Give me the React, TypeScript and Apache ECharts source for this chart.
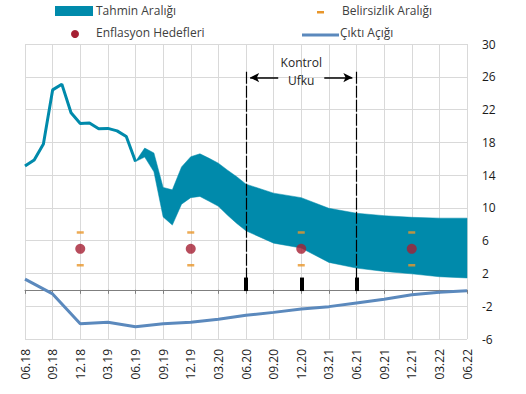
import React, { useEffect, useRef } from 'react';
import * as echarts from 'echarts';

// Quarterly tick labels (x axis = months since 06.18)
const xTickLabels = ['06.18', '09.18', '12.18', '03.19', '06.19', '09.19', '12.19', '03.20', '06.20', '09.20', '12.20', '03.21', '06.21', '09.21', '12.21', '03.22', '06.22'];

// Realised inflation (monthly)
const inflationMonths = [0, 1, 2, 3, 4, 5, 6, 7, 8, 9, 10, 11, 12];
const inflationValues = [15.1, 15.85, 17.8, 24.4, 25.1, 21.6, 20.3, 20.35, 19.65, 19.7, 19.4, 18.7, 15.65];

// Forecast range (Tahmin Aralığı)
const bandMonths = [12, 13, 14, 15, 16, 17, 18, 19, 20, 21, 22, 23, 24, 27, 30, 33, 36, 39, 42, 45, 48];
const bandUpper = [15.65, 17.3, 16.7, 12.5, 12.2, 15.0, 16.25, 16.6, 16.05, 15.45, 14.6, 13.8, 12.9, 11.8, 11.25, 9.95, 9.35, 9.05, 8.85, 8.75, 8.75];
const bandLower = [15.65, 16.2, 14.4, 8.9, 7.9, 10.45, 11.25, 11.4, 10.8, 10.2, 9.1, 8.1, 7.2, 5.7, 5.1, 3.35, 2.65, 2.25, 1.95, 1.6, 1.45];

// Output gap (Çıktı Açığı), quarterly
const gapMonths = [0, 3, 6, 9, 12, 15, 18, 21, 24, 27, 30, 33, 36, 39, 42, 45, 48];
const gapValues = [1.3, -0.5, -4.15, -3.95, -4.5, -4.15, -3.95, -3.6, -3.1, -2.75, -2.35, -2.05, -1.6, -1.15, -0.6, -0.3, -0.1];

// Inflation targets and uncertainty band
const targetMonths = [6, 18, 30, 42];
const targetValues = [5, 5, 5, 5];
const uncertaintyUpper = [7, 7, 7, 7];
const uncertaintyLower = [3, 3, 3, 3];

// Control horizon
const controlStart = 24;
const controlMid = 30;
const controlEnd = 36;
const controlTop = 26.6;
const arrowLevel = 25.9;

const TEAL = '#008aab';
const GAP = '#5b89bd';
const RED = '#a51f33';
const ORANGE = '#e8962b';
const FONT = 'Open Sans';

export default function App() {
  const ref = useRef<HTMLDivElement>(null);

  useEffect(() => {
    document.body.style.margin = '0';
    const chart = echarts.init(ref.current!, undefined, { renderer: 'svg' });

    const option: any = {
      animation: false,
      textStyle: { fontFamily: FONT },
      grid: { left: 25, right: 59, top: 44, bottom: 55 },
      xAxis: [
        {
          type: 'value',
          min: 0,
          max: 48,
          interval: 3,
          position: 'bottom',
          axisLine: { show: false, onZero: false },
          axisTick: { show: false },
          splitLine: { show: true, lineStyle: { color: '#d9d9d9', width: 1 } },
          axisLabel: {
            rotate: 90,
            margin: 10,
            color: '#1a1a1a',
            fontSize: 12,
            fontFamily: FONT,
            formatter: (v: number) => xTickLabels[Math.round(v / 3)] ?? '',
          },
        },
        {
          type: 'value',
          min: 0,
          max: 48,
          interval: 3,
          position: 'bottom',
          axisLine: { show: true, onZero: true, lineStyle: { color: '#7f7f7f', width: 1 } },
          axisTick: { show: true, length: 4, lineStyle: { color: '#7f7f7f' } },
          splitLine: { show: false },
          axisLabel: { show: false },
        },
      ],
      yAxis: {
        type: 'value',
        position: 'right',
        min: -6,
        max: 30,
        interval: 4,
        axisLine: { show: false },
        axisTick: { show: false },
        splitLine: { show: true, lineStyle: { color: '#d9d9d9', width: 1 } },
        axisLabel: { color: '#1a1a1a', fontSize: 12, margin: 15, fontFamily: FONT },
      },
      series: [
        {
          name: 'Tahmin Aralığı',
          type: 'custom',
          data: bandMonths.map((m, i) => [m, bandLower[i], bandUpper[i]]),
          encode: { x: 0, y: [1, 2] },
          z: 2,
          renderItem: (params: any, api: any) => {
            if (params.dataIndex !== 0) return { type: 'group', children: [] };
            const pts: number[][] = [];
            bandMonths.forEach((m, i) => pts.push(api.coord([m, bandUpper[i]])));
            for (let i = bandMonths.length - 1; i >= 0; i--) pts.push(api.coord([bandMonths[i], bandLower[i]]));
            return { type: 'polygon', shape: { points: pts }, style: { fill: TEAL, stroke: TEAL, lineWidth: 0.5 } };
          },
        },
        {
          name: 'Enflasyon',
          type: 'line',
          data: inflationMonths.map((m, i) => [m, inflationValues[i]]),
          symbol: 'none',
          z: 3,
          lineStyle: { color: TEAL, width: 3 },
        },
        {
          name: 'Çıktı Açığı',
          type: 'line',
          data: gapMonths.map((m, i) => [m, gapValues[i]]),
          symbol: 'none',
          z: 3,
          lineStyle: { color: GAP, width: 3 },
        },
        {
          name: 'Enflasyon Hedefleri',
          type: 'scatter',
          data: targetMonths.map((m, i) => [m, targetValues[i]]),
          symbol: 'circle',
          symbolSize: 10,
          z: 4,
          itemStyle: { color: RED },
        },
        {
          name: 'Belirsizlik Aralığı',
          type: 'scatter',
          data: [
            ...targetMonths.map((m, i) => [m, uncertaintyUpper[i]]),
            ...targetMonths.map((m, i) => [m, uncertaintyLower[i]]),
          ],
          symbol: 'rect',
          symbolSize: [7, 2.5],
          z: 4,
          itemStyle: { color: ORANGE },
        },
        {
          name: 'controlLines',
          type: 'line',
          data: [],
          z: 5,
          markLine: {
            silent: true,
            animation: false,
            symbol: ['none', 'none'],
            label: { show: false },
            lineStyle: { color: '#000', width: 1.2, type: [12, 2] },
            data: [
              [{ coord: [controlStart, controlTop] }, { coord: [controlStart, 0] }],
              [{ coord: [controlEnd, controlTop] }, { coord: [controlEnd, 0] }],
            ],
          },
        },
        {
          name: 'controlArrows',
          type: 'line',
          data: [],
          z: 5,
          markLine: {
            silent: true,
            animation: false,
            symbol: ['none', 'arrow'],
            symbolSize: [7, 9],
            label: { show: false },
            lineStyle: { color: '#000', width: 1.5, type: 'solid' },
            data: [
              [{ coord: [controlStart + 3.5, arrowLevel] }, { coord: [controlStart + 0.45, arrowLevel] }],
              [{ coord: [controlEnd - 3.5, arrowLevel] }, { coord: [controlEnd - 0.45, arrowLevel] }],
            ],
          },
          markPoint: {
            silent: true,
            animation: false,
            symbol: 'circle',
            symbolSize: 0,
            label: {
              show: true,
              position: 'inside',
              formatter: 'Kontrol\nUfku',
              color: '#262626',
              fontSize: 12,
              lineHeight: 18,
              fontFamily: FONT,
            },
            data: [{ coord: [controlMid, 26.6] }],
          },
        },
        {
          name: 'controlTicks',
          type: 'line',
          data: [],
          z: 6,
          markLine: {
            silent: true,
            animation: false,
            symbol: ['none', 'none'],
            label: { show: false },
            lineStyle: { color: '#000', width: 4, type: 'solid' },
            data: [controlStart, controlMid, controlEnd].map((m) => [
              { coord: [m, -0.15] },
              { coord: [m, 1.5] },
            ]),
          },
        },
      ],
      graphic: [
        { type: 'rect', left: 55, top: 6, shape: { width: 38, height: 10 }, style: { fill: TEAL } },
        { type: 'text', left: 96, top: 4, style: { text: 'Tahmin Aralığı', fill: '#404040', font: `12px "${FONT}"` } },
        { type: 'rect', left: 317, top: 11, shape: { width: 7, height: 2.5 }, style: { fill: ORANGE } },
        { type: 'text', left: 342, top: 4, style: { text: 'Belirsizlik Aralığı', fill: '#404040', font: `12px "${FONT}"` } },
        { type: 'circle', left: 71, top: 30, shape: { r: 4 }, style: { fill: RED } },
        { type: 'text', left: 96, top: 26, style: { text: 'Enflasyon Hedefleri', fill: '#404040', font: `12px "${FONT}"` } },
        { type: 'rect', left: 302, top: 33.5, shape: { width: 37, height: 3 }, style: { fill: GAP } },
        { type: 'text', left: 340, top: 26, style: { text: 'Çıktı Açığı', fill: '#404040', font: `12px "${FONT}"` } },
      ],
    };

    chart.setOption(option);
    return () => chart.dispose();
  }, []);

  return <div ref={ref} style={{ width: 526, height: 394 }} />;
}
